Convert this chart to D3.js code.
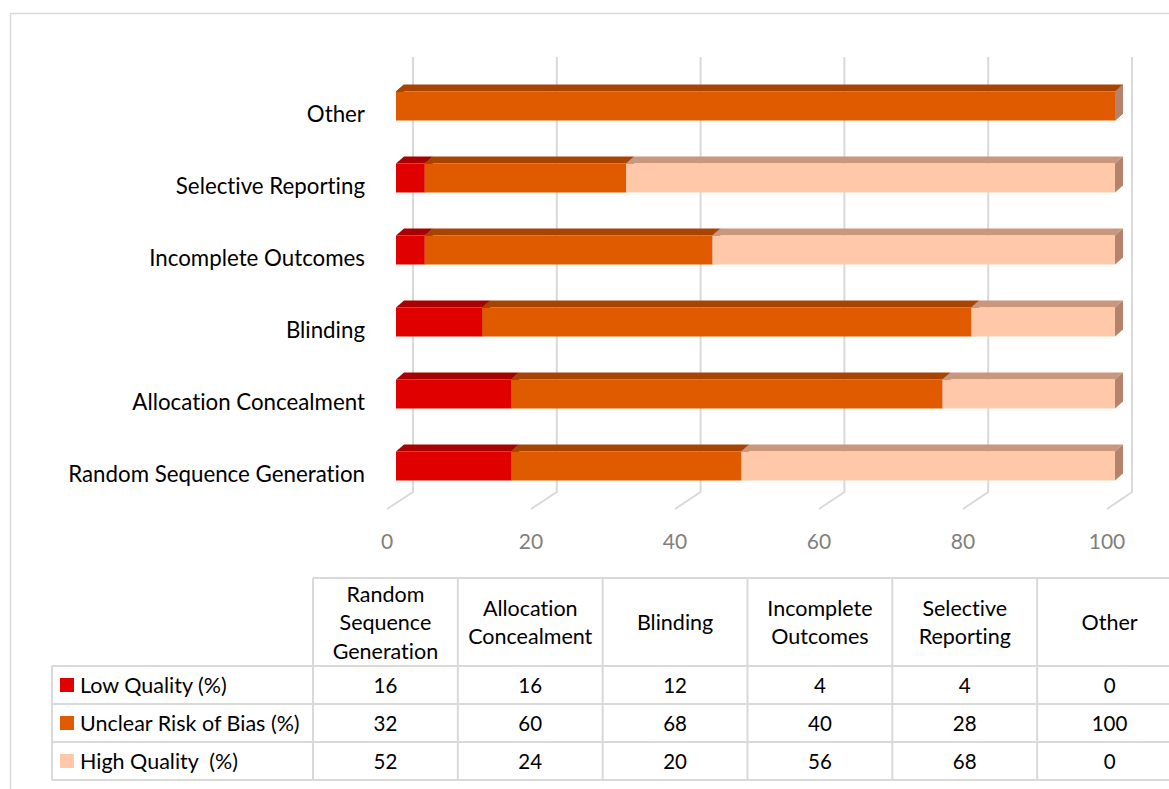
<!DOCTYPE html>
<html>
<head>
<meta charset="utf-8">
<script src="https://cdn.jsdelivr.net/npm/d3@7"></script>
<style>
  html, body { margin: 0; padding: 0; background: #fff; }
  svg { display: block; font-family: "Lato", "Open Sans", sans-serif; font-variant-ligatures: none; font-feature-settings: "liga" 0, "dlig" 0; }
</style>
</head>
<body>
<svg id="chart" width="1169" height="789"></svg>
<script>
// Risk-of-bias domains (table order, bottom bar first in the chart)
const categories = [
  "Random Sequence Generation",
  "Allocation Concealment",
  "Blinding",
  "Incomplete Outcomes",
  "Selective Reporting",
  "Other"
];
const seriesNames = ["Low Quality (%)", "Unclear Risk of Bias (%)", "High Quality  (%)"];
const lowQuality  = [16, 16, 12, 4, 4, 0];
const unclearRisk = [32, 60, 68, 40, 28, 100];
const highQuality = [52, 24, 20, 56, 68, 0];
const tickValues  = [0, 20, 40, 60, 80, 100];

const frontColors = ["#e00000", "#e05a00", "#ffc8a8"];
const topColors   = ["#a80000", "#a84400", "#c9967e"];
const sideColors  = ["#8e0000", "#8e3a00", "#b5836c"];

const seriesValues = [lowQuality, unclearRisk, highQuality];
const rows = categories.map((c, i) => {
  const r = { category: c };
  seriesNames.forEach((s, k) => { r[s] = seriesValues[k][i]; });
  return r;
});
const stacked = d3.stack().keys(seriesNames)(rows);

const svg = d3.select("#chart");
const W = 1169, H = 789;
svg.append("rect").attr("width", W).attr("height", H).attr("fill", "#fff");

// chart area frame
svg.append("rect")
  .attr("x", 10.5).attr("y", 13.5)
  .attr("width", 1200).attr("height", 800)
  .attr("fill", "none").attr("stroke", "#d9d9d9").attr("stroke-width", 1.5);

// scales: bar front plane, floor front edge and back wall
const x = d3.scaleLinear().domain([0, 100]).range([396, 1115]);
const xFloor = d3.scaleLinear().domain([0, 100]).range([387, 1107]);
const xWall = d3.scaleLinear().domain([0, 100]).range([413, 1132]);
const y = d3.scalePoint().domain(categories).range([466, 106]);
const barH = 29;
const depthX = 8, depthY = 7;
const floorFrontY = 509, wallBottomY = 492, wallTopY = 57;

// gridlines on back wall plus floor diagonals
const grid = svg.append("g").attr("stroke", "#d9d9d9").attr("stroke-width", 2).attr("fill", "none");
tickValues.forEach(t => {
  grid.append("path")
    .attr("d", `M${xFloor(t)},${floorFrontY} L${xWall(t)},${wallBottomY} L${xWall(t)},${wallTopY}`);
});

// 3D stacked bars
const bars = svg.append("g");
stacked.forEach((layer, k) => {
  layer.forEach((d, i) => {
    const cat = categories[i];
    const x0 = x(d[0]), x1 = x(d[1]);
    const yt = y(cat) - barH / 2, yb = yt + barH;
    const g = bars.append("g");
    // top face
    g.append("path")
      .attr("d", `M${x0},${yt} L${x0 + depthX},${yt - depthY} L${x1 + depthX},${yt - depthY} L${x1},${yt} Z`)
      .attr("fill", topColors[k]);
    // end face
    g.append("path")
      .attr("d", `M${x1},${yt} L${x1 + depthX},${yt - depthY} L${x1 + depthX},${yb - depthY} L${x1},${yb} Z`)
      .attr("fill", sideColors[k]);
    // front face
    g.append("rect")
      .attr("x", x0).attr("y", yt)
      .attr("width", Math.max(0, x1 - x0)).attr("height", barH)
      .attr("fill", frontColors[k]);
  });
});

// category labels
svg.append("g")
  .selectAll("text")
  .data(categories)
  .join("text")
  .attr("x", 365)
  .attr("y", d => y(d) + 7)
  .attr("text-anchor", "end")
  .attr("dominant-baseline", "central")
  .attr("font-size", 22.3)
  .attr("fill", "#000")
  .text(d => d);

// value axis labels
svg.append("g")
  .selectAll("text")
  .data(tickValues)
  .join("text")
  .attr("x", d => xFloor(d))
  .attr("y", 540)
  .attr("text-anchor", "middle")
  .attr("dominant-baseline", "central")
  .attr("font-size", 21)
  .attr("fill", "#7f7f7f")
  .text(d => d);

// data table
const colX = d3.scaleBand().domain(categories).range([313, 1182]);
const headerTop = 578, headerBottom = 666, rowH = 38;
const rowY = d3.scaleBand().domain(seriesNames).range([headerBottom, headerBottom + rowH * seriesNames.length]);
const tableLeft = 52, tableRight = 1182;

const tbl = svg.append("g");
const lines = tbl.append("g").attr("stroke", "#d9d9d9").attr("stroke-width", 2);
// horizontal lines
lines.append("line").attr("x1", colX.range()[0]).attr("x2", tableRight).attr("y1", headerTop).attr("y2", headerTop);
[headerBottom, ...seriesNames.map(s => rowY(s) + rowY.bandwidth())].forEach(v => {
  lines.append("line").attr("x1", tableLeft).attr("x2", tableRight).attr("y1", v).attr("y2", v);
});
// vertical lines
lines.append("line").attr("x1", tableLeft).attr("x2", tableLeft).attr("y1", headerBottom).attr("y2", rowY.range()[1]);
categories.forEach(c => {
  lines.append("line").attr("x1", colX(c)).attr("x2", colX(c)).attr("y1", headerTop).attr("y2", rowY.range()[1]);
});
lines.append("line").attr("x1", tableRight).attr("x2", tableRight).attr("y1", headerTop).attr("y2", rowY.range()[1]);

// header cells: one word per line
const lineGap = 28.5;
categories.forEach(c => {
  const words = c.split(" ");
  const cy = (headerTop + headerBottom) / 2;
  const t = tbl.append("text")
    .attr("text-anchor", "middle")
    .attr("font-size", 21.5)
    .attr("fill", "#000");
  words.forEach((w, j) => {
    t.append("tspan")
      .attr("x", colX(c) + colX.bandwidth() / 2)
      .attr("y", cy + (j - (words.length - 1) / 2) * lineGap)
      .attr("dominant-baseline", "central")
      .text(w);
  });
});

// legend keys and row names
seriesNames.forEach((s, k) => {
  const cy = rowY(s) + rowY.bandwidth() / 2;
  tbl.append("rect")
    .attr("x", 60).attr("y", cy - 7)
    .attr("width", 14).attr("height", 14)
    .attr("fill", frontColors[k]);
  tbl.append("text")
    .attr("x", 80).attr("y", cy)
    .attr("dominant-baseline", "central")
    .attr("font-size", 21.5)
    .attr("fill", "#000")
    .style("white-space", "pre")
    .attr("xml:space", "preserve")
    .text(s);
  categories.forEach((c, i) => {
    tbl.append("text")
      .attr("x", colX(c) + colX.bandwidth() / 2)
      .attr("y", cy)
      .attr("text-anchor", "middle")
      .attr("dominant-baseline", "central")
      .attr("font-size", 20.5)
      .attr("fill", "#000")
      .text(seriesValues[k][i]);
  });
});
</script>
</body>
</html>
